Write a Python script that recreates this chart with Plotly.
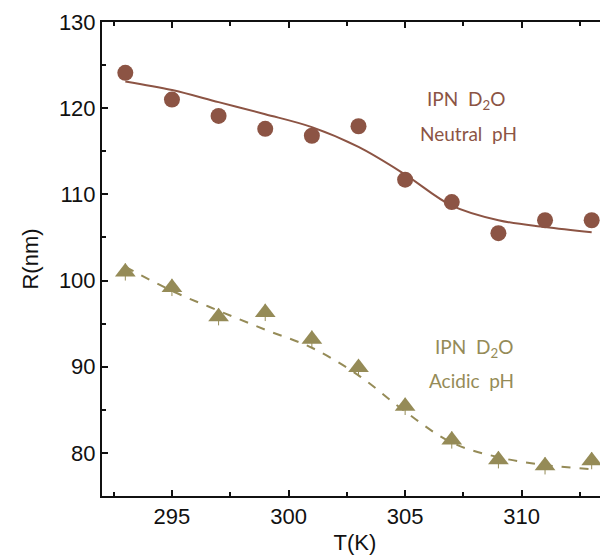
import plotly.graph_objects as go

T = [293, 295, 297, 299, 301, 303, 305, 307, 309, 311, 313]
R_neutral = [124.1, 121.0, 119.1, 117.6, 116.8, 117.9, 111.7, 109.1, 105.5, 107.0, 107.0]
R_acidic = [101.0, 99.2, 95.8, 96.3, 93.2, 89.9, 85.4, 81.5, 79.2, 78.5, 79.1]
fit_neutral = [123.1, 122.1, 120.7, 119.3, 117.8, 115.5, 112.3, 108.7, 107.0, 106.2, 105.6]
fit_acidic = [101.6, 98.8, 96.5, 94.3, 92.2, 89.0, 84.8, 81.2, 79.5, 78.6, 78.1]

BROWN = "#8C5444"
OLIVE = "#958B57"

fig = go.Figure()
fig.add_trace(go.Scatter(x=T, y=fit_neutral, mode="lines", line=dict(color=BROWN, width=2, shape="spline", smoothing=1.0), hoverinfo="skip"))
fig.add_trace(go.Scatter(x=T, y=fit_acidic, mode="lines", line=dict(color=OLIVE, width=2, dash="dash", shape="spline", smoothing=1.0), hoverinfo="skip"))
fig.add_trace(go.Scatter(x=T, y=R_neutral, mode="markers", marker=dict(symbol="circle", size=16, color=BROWN)))
fig.add_trace(go.Scatter(x=T, y=R_acidic, mode="markers", marker=dict(symbol="triangle-up", size=18, color=OLIVE),
                         error_y=dict(type="constant", value=1.0, color=OLIVE, thickness=1, width=0)))

ann_font = "Lato"
fig.add_annotation(x=307.6, y=121.0, text="IPN  D<sub>2</sub>O", showarrow=False, font=dict(family=ann_font, size=19, color=BROWN))
fig.add_annotation(x=307.7, y=117.1, text="Neutral  pH", showarrow=False, font=dict(family=ann_font, size=19, color=BROWN))
fig.add_annotation(x=307.95, y=92.2, text="IPN  D<sub>2</sub>O", showarrow=False, font=dict(family=ann_font, size=19, color=OLIVE))
fig.add_annotation(x=307.85, y=88.4, text="Acidic  pH", showarrow=False, font=dict(family=ann_font, size=19, color=OLIVE))

axis_font = dict(family="Liberation Sans, Arial", size=22, color="#111")
# page body has an 8px margin; figure sized/offset so plot area lands at x 102..608, y 22..496
fig.update_layout(
    width=600, height=547,
    margin=dict(l=94, r=0, t=14, b=59, autoexpand=False),
    plot_bgcolor="white", paper_bgcolor="white",
    showlegend=False,
    font=axis_font,
)
fig.update_xaxes(range=[292.0, 313.7], tickmode="array", tickvals=[295, 300, 305, 310],
                 ticks="inside", ticklen=6, tickwidth=1.5, tickcolor="#111",
                 showline=True, linewidth=2, linecolor="#111", mirror="ticks",
                 showgrid=False, zeroline=False, tickfont=axis_font, automargin=False,
                 minor=dict(tickvals=[292.5, 297.5, 302.5, 307.5, 312.5], ticks="inside", ticklen=4, tickwidth=1.5, tickcolor="#111"),
                 title=dict(text="T(K)", font=axis_font, standoff=6))
fig.update_yaxes(range=[75, 130], tickmode="array", tickvals=[80, 90, 100, 110, 120, 130],
                 ticks="inside", ticklen=6, tickwidth=1.5, tickcolor="#111",
                 showline=True, linewidth=2, linecolor="#111",
                 showgrid=False, zeroline=False, tickfont=axis_font, automargin=False,
                 minor=dict(tickvals=[85, 95, 105, 115, 125], ticks="inside", ticklen=4, tickwidth=1.5, tickcolor="#111"),
                 title=dict(text="R(nm)", font=axis_font, standoff=14))

fig.write_html("out.html")
